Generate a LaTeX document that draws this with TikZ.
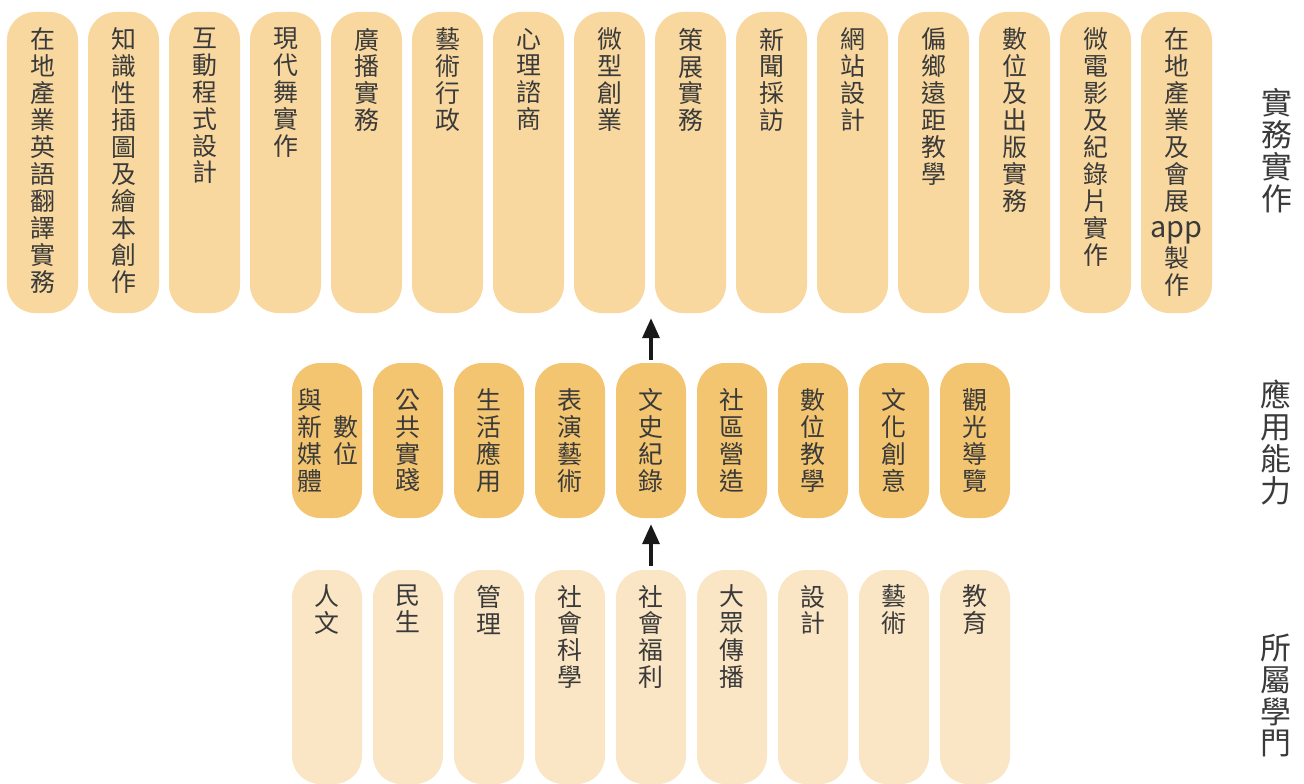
\documentclass[tikz,border=0pt]{standalone}
\usepackage{fontspec}
\setmainfont{Noto Sans CJK TC}
\usetikzlibrary{arrows.meta}
\definecolor{topc}{HTML}{F8D89F}
\definecolor{midc}{HTML}{F3C570}
\definecolor{botc}{HTML}{FAE6C4}
\definecolor{txtc}{HTML}{3A3A3A}
\newcommand{\appword}{{\fontsize{29}{27}\selectfont app}}
\newcommand{\vtfont}{\fontsize{25}{27}\selectfont\lineskiplimit=-100pt\relax}
\newcommand{\sidefont}{\fontsize{31}{32}\selectfont\lineskiplimit=-100pt\relax}
\begin{document}
\begin{tikzpicture}[x=1bp,y=-1bp,
  topbox/.style={fill=topc, rounded corners=28bp, minimum width=71bp, minimum height=301bp, inner sep=0pt},
  midbox/.style={fill=midc, rounded corners=28bp, minimum width=70bp, minimum height=155bp, inner sep=0pt},
  botbox/.style={fill=botc, rounded corners=28bp, minimum width=70bp, minimum height=214bp, inner sep=0pt},
  vtext/.style={text=txtc, align=center, inner sep=0pt, font=\vtfont},
  side/.style={text=txtc, align=center, inner sep=0pt, font=\sidefont},
  arr/.style={-{Triangle[width=17bp,length=20bp]}, line width=3.5bp, draw=black!90}
]
\useasboundingbox (0,0) rectangle (1304,783);

% top row
\foreach \lbl [count=\i] in {
  {在\\地\\產\\業\\英\\語\\翻\\譯\\實\\務},
  {知\\識\\性\\插\\圖\\及\\繪\\本\\創\\作},
  {互\\動\\程\\式\\設\\計},
  {現\\代\\舞\\實\\作},
  {廣\\播\\實\\務},
  {藝\\術\\行\\政},
  {心\\理\\諮\\商},
  {微\\型\\創\\業},
  {策\\展\\實\\務},
  {新\\聞\\採\\訪},
  {網\\站\\設\\計},
  {偏\\鄉\\遠\\距\\教\\學},
  {數\\位\\及\\出\\版\\實\\務},
  {微\\電\\影\\及\\紀\\錄\\片\\實\\作},
  {在\\地\\產\\業\\及\\會\\展\\\appword\\[3bp]製\\作}}
{
  \node[topbox] (t\i) at ({42.5+81*(\i-1)},162.5) {};
  \node[vtext, anchor=north] (tl\i) at ([yshift=-16bp]t\i.north) {\lbl};
}

% middle row
\foreach \lbl [count=\i] in {
  {\relax},
  {公\\共\\實\\踐},
  {生\\活\\應\\用},
  {表\\演\\藝\\術},
  {文\\史\\紀\\錄},
  {社\\區\\營\\造},
  {數\\位\\教\\學},
  {文\\化\\創\\意},
  {觀\\光\\導\\覽}}
{
  \node[midbox] (m\i) at ({327+81*(\i-1)},440.5) {};
  \node[vtext] (ml\i) at (m\i.center) {\lbl};
}
\node[vtext] (ml1a) at ([xshift=19bp]m1.center) {數\\位};
\node[vtext] (ml1b) at ([xshift=-17bp]m1.center) {與\\新\\媒\\體};

% bottom row
\foreach \lbl [count=\i] in {
  {人\\文},
  {民\\生},
  {管\\理},
  {社\\會\\科\\學},
  {社\\會\\福\\利},
  {大\\眾\\傳\\播},
  {設\\計},
  {藝\\術},
  {教\\育}}
{
  \node[botbox] (b\i) at ({327+81*(\i-1)},677) {};
  \node[vtext, anchor=north] (bl\i) at ([yshift=-15bp]b\i.north) {\lbl};
}

% side labels
\node[side] (s1) at (1277,150.5) {實\\務\\實\\作};
\node[side] (s2) at (1276,442.5) {應\\用\\能\\力};
\node[side] (s3) at (1276,695.5) {所\\屬\\學\\門};

% arrows
\draw[arr, shorten >=5bp] ([yshift=3bp]m5.north) -- (m5.north |- t8.south);
\draw[arr, shorten >=6bp] ([yshift=4bp]b5.north) -- (m5.south);
\end{tikzpicture}
\end{document}
